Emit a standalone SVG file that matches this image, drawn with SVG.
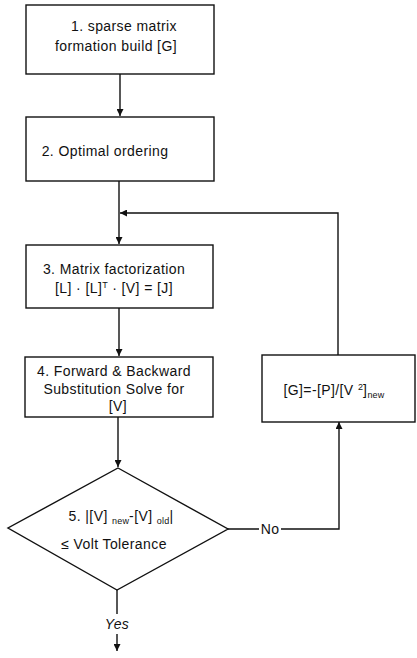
<svg xmlns="http://www.w3.org/2000/svg" width="417" height="658" viewBox="0 0 417 658">
<defs>
<marker id="arr" viewBox="0 0 10 10" refX="10" refY="5" markerWidth="7" markerHeight="7" orient="auto-start-reverse" markerUnits="userSpaceOnUse">
<path d="M0,0 L10,5 L0,10 z" fill="#111"/>
</marker>
<style>
.box{fill:#fff;stroke:#111;stroke-width:1.4}
.ln{fill:none;stroke:#111;stroke-width:1.4}
.t{font-family:"Liberation Sans",Arial,sans-serif;font-size:14px;fill:#111;text-anchor:middle;letter-spacing:0.4px}
.s{font-size:9px;letter-spacing:0.2px}
</style>
</defs>
<rect width="417" height="658" fill="#fff"/>
<g id="connectors">
<path class="ln" d="M120,74 V116" marker-end="url(#arr)"/>
<path class="ln" d="M119,181 V244" marker-end="url(#arr)"/>
<path class="ln" d="M338,355 V213 H120" marker-end="url(#arr)"/>
<path class="ln" d="M119,308 V356" marker-end="url(#arr)"/>
<path class="ln" d="M118,417 V467" marker-end="url(#arr)"/>
<path class="ln" d="M228,529 H259 M281,529 H339 V422" marker-end="url(#arr)"/>
<path class="ln" d="M117,590 V614 M117,634 V651" marker-end="url(#arr)"/>
<text class="t" x="270" y="534">No</text>
<text class="t" x="117" y="629" font-style="italic">Yes</text>
</g>
<g id="n1">
<rect class="box" x="26" y="5" width="188" height="69"/>
<text class="t" x="124" y="31">1. sparse matrix</text>
<text class="t" x="116" y="51">formation build [G]</text>
</g>
<g id="n2">
<rect class="box" x="26" y="117" width="188" height="64"/>
<text class="t" x="105" y="156">2. Optimal ordering</text>
</g>
<g id="n3">
<rect class="box" x="26" y="245" width="187" height="63"/>
<text class="t" x="114" y="274">3. Matrix factorization</text>
<text class="t" x="114" y="293">[L] · [L]<tspan class="s" dy="-5">T</tspan><tspan dy="5"> · [V] = [J]</tspan></text>
</g>
<g id="n4">
<rect class="box" x="25" y="357" width="188" height="60"/>
<text class="t" x="114" y="376">4. Forward &amp; Backward</text>
<text class="t" x="114" y="394">Substitution Solve for</text>
<text class="t" x="118" y="411">[V]</text>
</g>
<g id="n5">
<path class="box" d="M118,468 L228,529 L117,590 L8,528 Z"/>
<text class="t" x="121" y="521">5. |[V] <tspan class="s" dy="3">new</tspan><tspan dy="-3">-[V] </tspan><tspan class="s" dy="3">old</tspan><tspan dy="-3">|</tspan></text>
<text class="t" x="114" y="549">≤ Volt Tolerance</text>
</g>
<g id="n6">
<rect class="box" x="262" y="355" width="153" height="67"/>
<text class="t" x="334" y="395">[G]=-[P]/[V <tspan class="s" dy="-5">2</tspan><tspan dy="5">]</tspan><tspan class="s" dy="3">new</tspan></text>
</g>
</svg>
